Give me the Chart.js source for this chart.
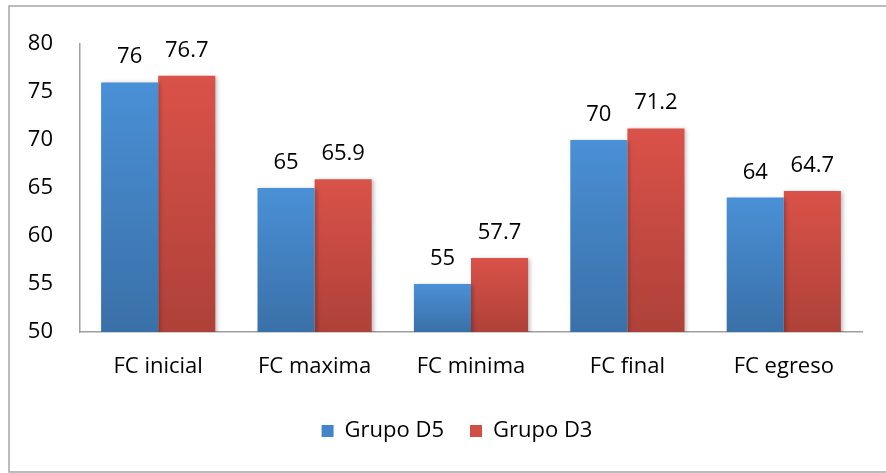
<!DOCTYPE html>
<html>
<head>
<meta charset="utf-8">
<script src="https://cdn.jsdelivr.net/npm/chart.js@4/dist/chart.umd.min.js"></script>
<style>
  html, body { margin: 0; padding: 0; background: #fff; }
  #wrap { position: absolute; left: 0; top: 0; width: 886px; height: 473px; }
</style>
</head>
<body>
<div id="wrap"><canvas id="chart"></canvas></div>
<script>
// Data
const categories = ['FC inicial', 'FC maxima', 'FC minima', 'FC final', 'FC egreso'];
const grupoD5 = [76, 65, 55, 70, 64];
const grupoD3 = [76.7, 65.9, 57.7, 71.2, 64.7];
const yTicks = [50, 55, 60, 65, 70, 75, 80];

const FONT = "'Open Sans', 'Noto Sans', sans-serif";
const FSIZE = 22;

// Vertical gradient for each bar (lighter at top)
function barGradient(top, bottom) {
    return function (ctx) {
        const chart = ctx.chart;
        const y = chart.scales.y;
        if (!y || ctx.raw === undefined) return top;
        const yTop = y.getPixelForValue(ctx.raw);
        const yBot = y.getPixelForValue(y.min);
        if (!isFinite(yTop) || !isFinite(yBot) || yTop === yBot) return top;
        const g = chart.ctx.createLinearGradient(0, yTop, 0, yBot);
        g.addColorStop(0, top);
        g.addColorStop(1, bottom);
        return g;
    };
}

// Outer frame of the chart
const framePlugin = {
    id: 'frame',
    beforeDraw(chart) {
        const c = chart.ctx;
        c.save();
        c.strokeStyle = '#a6a6a6';
        c.lineWidth = 1.5;
        c.strokeRect(9, 6, 900, 466);
        c.restore();
    }
};

// Legend sits a bit right of the canvas centre in the original
const legendShift = {
    id: 'legendShift',
    afterLayout(chart) {
        if (chart.legend) {
            chart.legend.left += 26;
            chart.legend.right += 26;
        }
    }
};

// Soft shadow behind bars
const shadowPlugin = {
    id: 'barShadow',
    beforeDatasetsDraw(chart) {
        const c = chart.ctx;
        c.save();
        c.shadowColor = 'rgba(0,0,0,0.25)';
        c.shadowBlur = 4;
        c.shadowOffsetX = 2;
        c.shadowOffsetY = 1;
    },
    afterDatasetsDraw(chart) {
        chart.ctx.restore();
    }
};

// Value labels above bars
const valueLabels = {
    id: 'valueLabels',
    afterDatasetsDraw(chart) {
        const c = chart.ctx;
        c.save();
        c.font = FSIZE + 'px ' + FONT;
        c.fillStyle = '#000';
        c.textAlign = 'center';
        c.textBaseline = 'alphabetic';
        chart.data.datasets.forEach((ds, i) => {
            chart.getDatasetMeta(i).data.forEach((bar, j) => {
                c.fillText(String(ds.data[j]), bar.x, bar.y - 19);
            });
        });
        c.restore();
    }
};

new Chart(document.getElementById('chart'), {
    type: 'bar',
    data: {
        labels: categories,
        datasets: [{
            label: 'Grupo D5',
            data: grupoD5,
            backgroundColor: barGradient('#4a90d6', '#3a70a8'),
            categoryPercentage: 0.73,
            barPercentage: 1
        }, {
            label: 'Grupo D3',
            data: grupoD3,
            backgroundColor: barGradient('#da5249', '#ae4139'),
            categoryPercentage: 0.73,
            barPercentage: 1
        }]
    },
    options: {
        responsive: true,
        maintainAspectRatio: false,
        animation: false,
        layout: { padding: { top: 44, right: 24, bottom: 21, left: 0 } },
        plugins: {
            tooltip: { enabled: false },
            legend: {
                position: 'bottom',
                labels: {
                    color: '#000',
                    font: { family: FONT, size: FSIZE },
                    boxWidth: 12,
                    boxHeight: 12,
                    padding: 26,
                    generateLabels(chart) {
                        const cols = ['#4285cb', '#d24d44'];
                        return chart.data.datasets.map((ds, i) => ({
                            text: ds.label,
                            fillStyle: cols[i],
                            strokeStyle: cols[i],
                            lineWidth: 0,
                            datasetIndex: i,
                            fontColor: '#000'
                        }));
                    }
                }
            }
        },
        scales: {
            x: {
                grid: { display: false, drawTicks: false },
                border: { color: '#a0a0a0', width: 1.5 },
                ticks: { color: '#000', font: { family: FONT, size: FSIZE }, padding: 22 },
                afterFit(scale) { scale.height = 62; }
            },
            y: {
                min: yTicks[0],
                max: yTicks[yTicks.length - 1],
                afterBuildTicks(scale) { scale.ticks = yTicks.map(v => ({ value: v })); },
                grid: { display: false, drawTicks: false },
                border: { color: '#a0a0a0', width: 1.5 },
                ticks: { color: '#000', font: { family: FONT, size: FSIZE }, padding: 27 },
                afterFit(scale) { scale.width = 80; }
            }
        }
    },
    plugins: [framePlugin, legendShift, shadowPlugin, valueLabels]
});
</script>
</body>
</html>
